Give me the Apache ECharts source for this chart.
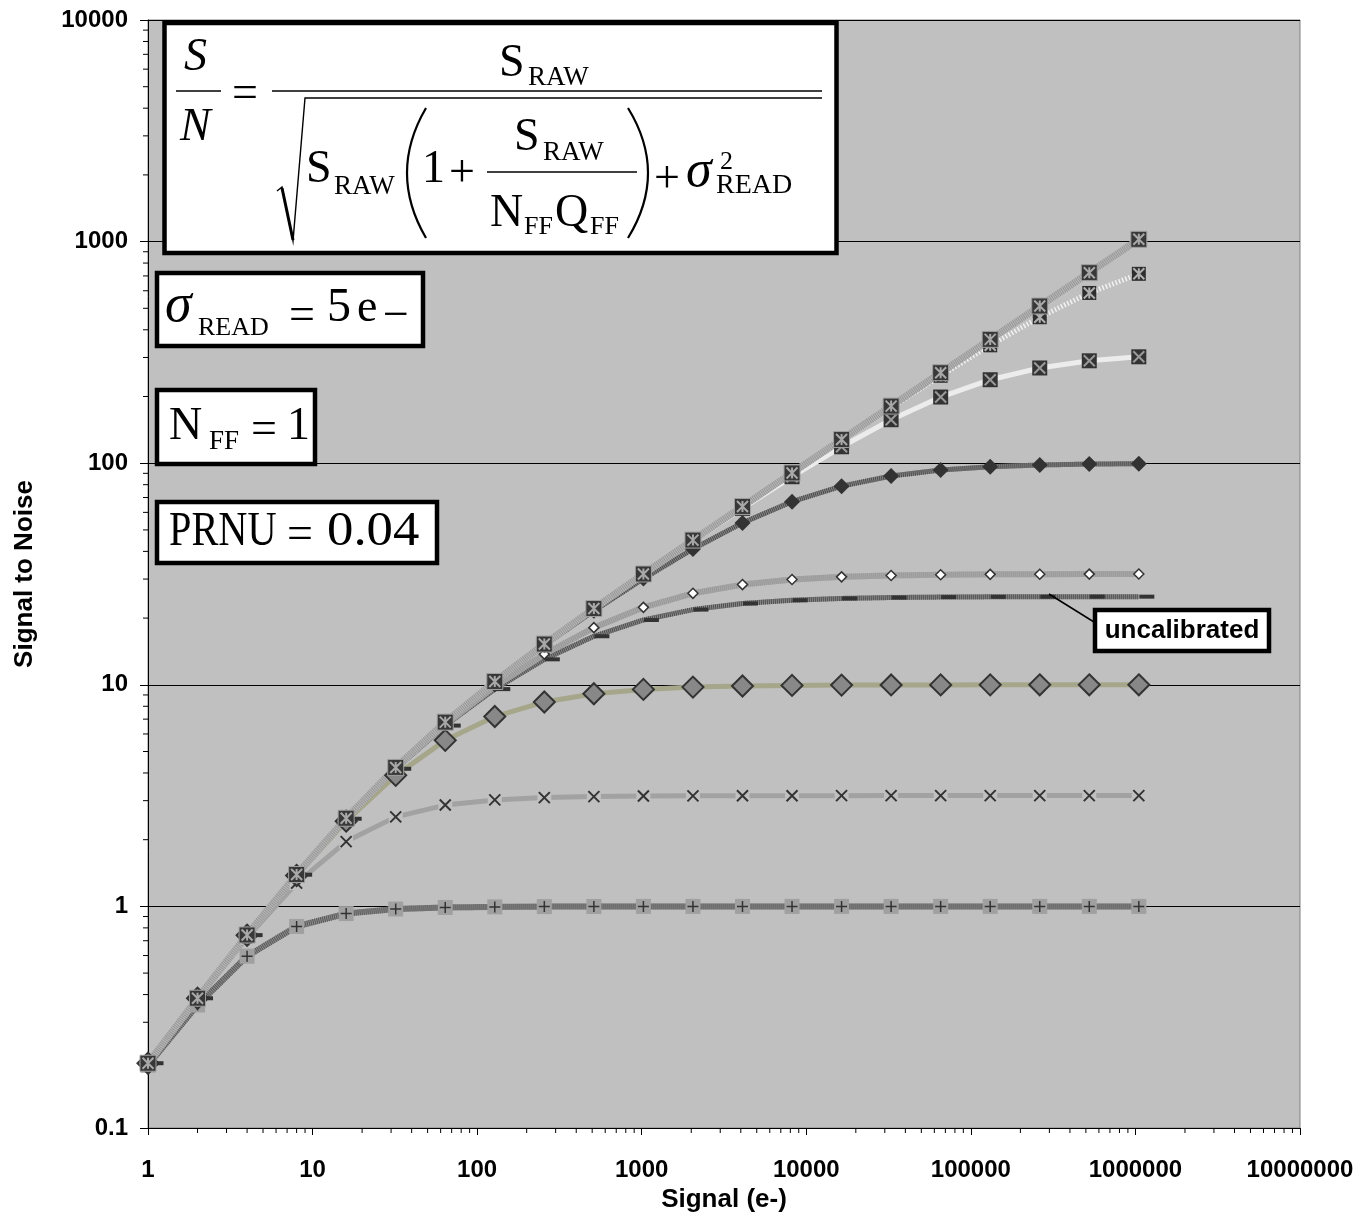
<!DOCTYPE html>
<html>
<head>
<meta charset="utf-8">
<script src="https://cdn.jsdelivr.net/npm/echarts@6/dist/echarts.min.js"></script>
<style>
  html, body { margin: 0; padding: 0; background: #ffffff; }
  #chart { width: 1362px; height: 1231px; }
</style>
</head>
<body>
<div id="chart"></div>
<script>
// ---------------- data ----------------
const signal = [1, 2, 4, 8, 16, 32, 64, 128, 256, 512, 1024, 2048, 4096, 8192, 16384, 32768, 65536, 131072, 262144, 524288, 1048576];

const snrNoFlatField = [0.196, 0.385, 0.743, 1.393, 2.499, 4.238, 6.784, 10.35, 15.27, 22.09, 31.62, 44.98, 63.80, 90.37, 127.9, 181.0, 256.0, 362.0, 512.0, 724.1, 1024];
const snrQ1e6 = [0.196, 0.385, 0.743, 1.393, 2.499, 4.238, 6.784, 10.35, 15.27, 22.09, 31.60, 44.93, 63.68, 90.00, 126.9, 178.1, 248.0, 340.4, 455.7, 586.5, 715.4];
const snrQ1e5 = [0.196, 0.385, 0.743, 1.393, 2.499, 4.238, 6.783, 10.35, 15.25, 22.04, 31.46, 44.53, 62.55, 86.89, 118.6, 157.1, 198.9, 238.1, 269.0, 289.8, 302.1];
const snrQ1e4 = [0.196, 0.385, 0.743, 1.393, 2.498, 4.235, 6.768, 10.29, 15.10, 21.57, 30.14, 41.02, 53.79, 67.05, 78.78, 87.52, 93.14, 96.39, 98.15, 99.06, 99.53];
const snrQ1e3 = [0.196, 0.385, 0.743, 1.391, 2.491, 4.201, 6.633, 9.835, 13.75, 18.11, 22.36, 25.87, 28.33, 29.85, 30.70, 31.15, 31.38, 31.50, 31.56, 31.59, 31.61];
const snrUncalibrated = [0.196, 0.385, 0.742, 1.390, 2.486, 4.179, 6.547, 9.562, 13.03, 16.56, 19.61, 21.85, 23.28, 24.09, 24.54, 24.76, 24.88, 24.94, 24.97, 24.99, 24.99];
const snrQ100 = [0.196, 0.385, 0.741, 1.379, 2.424, 3.902, 5.614, 7.191, 8.366, 9.110, 9.534, 9.762, 9.879, 9.939, 9.970, 9.985, 9.992, 9.996, 9.998, 9.999, 10.00];
const snrQ10 = [0.196, 0.382, 0.723, 1.274, 1.961, 2.535, 2.866, 3.024, 3.097, 3.130, 3.147, 3.154, 3.158, 3.160, 3.161, 3.162, 3.162, 3.162, 3.162, 3.162, 3.162];
const snrQ1 = [0.192, 0.359, 0.596, 0.812, 0.928, 0.973, 0.989, 0.995, 0.998, 0.999, 1.000, 1.000, 1.000, 1.000, 1.000, 1.000, 1.000, 1.000, 1.000, 1.000, 1.000];

const xTickLabels = ['1', '10', '100', '1000', '10000', '100000', '1000000', '10000000'];
const yTickLabels = ['0.1', '1', '10', '100', '1000', '10000'];
const xMinorTicks = [2,3,4,5,6,7,8,9, 20,30,40,50,60,70,80,90, 200,300,400,500,600,700,800,900,
  2000,3000,4000,5000,6000,7000,8000,9000, 20000,30000,40000,50000,60000,70000,80000,90000,
  200000,300000,400000,500000,600000,700000,800000,900000, 2000000,3000000,4000000,5000000,6000000,7000000,8000000,9000000];
const yMinorTicks = [0.2,0.3,0.4,0.5,0.6,0.7,0.8,0.9, 2,3,4,5,6,7,8,9, 20,30,40,50,60,70,80,90,
  200,300,400,500,600,700,800,900, 2000,3000,4000,5000,6000,7000,8000,9000];

// ---------------- helpers ----------------
const pairs = vals => signal.map((s, i) => [s, vals[i]]);
const P_X = 'path://M0,0L10,10M10,0L0,10';
const P_PLUS = 'path://M5,0L5,10M0,5L10,5';
const P_STAR = 'path://M0,0L10,10M10,0L0,10M5,0L5,10';
const common = { silent: true, animation: false, emphasis: { disabled: true } };

function lineOnly(name, vals, lineStyle) {
  return Object.assign({ name, type: 'line', data: pairs(vals), smooth: false, symbol: 'none', lineStyle }, common);
}
function marks(name, vals, symbol, size, itemStyle, extra) {
  return Object.assign({ name: name + ' markers', type: 'line', data: pairs(vals), lineStyle: { width: 0, opacity: 0 },
    symbol, symbolSize: size, showSymbol: true, itemStyle }, common, extra || {});
}
function strokeMarks(name, vals, path, size, color, width) {
  return marks(name, vals, path, size, { color: 'rgba(0,0,0,0)', borderColor: color, borderWidth: width });
}
function minorTickSeries(vals, isX) {
  return {
    type: 'custom', silent: true, animation: false, clip: false,
    data: vals.map(v => isX ? [v, 0.1] : [1, v]),
    renderItem: function (params, api) {
      const p = api.coord([api.value(0), api.value(1)]);
      const shape = isX ? { x1: p[0], y1: p[1], x2: p[0], y2: p[1] + 5 }
                        : { x1: p[0] - 5, y1: p[1], x2: p[0], y2: p[1] };
      return { type: 'line', shape, style: { stroke: '#000', lineWidth: 1 } };
    }
  };
}

const serif = '"Times New Roman","Liberation Serif",serif';
function tx(x, y, text, size, italic, sx) {
  return { type: 'text', x, y, z: 101, scaleX: sx || 1,
    style: { text, font: (italic ? 'italic ' : '') + size + 'px ' + serif, fill: '#000', align: 'left', verticalAlign: 'middle' } };
}
function box(x, y, w, h) {
  return { type: 'rect', z: 100, shape: { x, y, width: w, height: h }, style: { fill: '#fff', stroke: '#000', lineWidth: 4.5 } };
}
function ln(x1, y1, x2, y2, w) {
  return { type: 'line', z: 101, shape: { x1, y1, x2, y2 }, style: { stroke: '#000', lineWidth: w || 1.5 } };
}
function paren(xEnd, xMid, y1, y2) {
  return { type: 'bezierCurve', z: 101, shape: { x1: xEnd, y1, x2: xEnd, y2, cpx1: 2 * xMid - xEnd, cpy1: (y1 + y2) / 2 }, style: { stroke: '#000', lineWidth: 2.2, fill: null } };
}

const BIG = 46, SUB = 27;
const graphics = [
  box(164.5, 23, 672, 230),
  tx(184, 58, 'S', BIG, true),
  ln(176, 91, 221, 91),
  tx(180, 128, 'N', BIG, true),
  tx(232, 95, '=', BIG),
  ln(272, 91, 822, 91),
  tx(499, 64, 'S', BIG), tx(528, 78, 'RAW', SUB),
  { type: 'polyline', z: 101, shape: { points: [[277, 191], [282, 187], [293, 241], [305, 98], [822, 98]] }, style: { stroke: '#000', lineWidth: 1.4, fill: null } },
  ln(282, 188, 293, 240, 3),
  tx(306, 170, 'S', BIG), tx(334, 187, 'RAW', SUB),
  paren(426, 407, 108, 238),
  tx(422, 170, '1', BIG), tx(449, 174, '+', BIG),
  tx(514, 138, 'S', BIG), tx(543, 153, 'RAW', SUB),
  ln(487, 172, 637, 172),
  tx(490, 214, 'N', BIG), tx(524, 227, 'FF', 26), tx(555, 214, 'Q', BIG), tx(590, 227, 'FF', 26),
  paren(628, 648, 108, 238),
  tx(654, 180, '+', BIG),
  tx(686, 172, 'σ', 52, true), tx(720, 162, '2', 26), tx(716, 186, 'READ', 28),

  box(157, 273, 266, 73),
  tx(165, 307, 'σ', 54, true), tx(198, 328, 'READ', 26), tx(289, 317, '=', BIG),
  tx(327, 308, '5', 48), tx(357, 309, 'e', BIG), tx(383, 317, '−', BIG),

  box(157, 390, 158, 74),
  tx(169, 427, 'N', BIG), tx(209, 442, 'FF', 27), tx(251, 431, '=', BIG), tx(287, 427, '1', BIG),

  box(157, 502, 280, 61),
  tx(169, 532, 'PRNU', 48, false, 0.84), tx(287, 536, '=', BIG), tx(327, 532, '0.04', 48, false, 1.1),

  ln(1049, 594, 1094, 622, 1.5),
  box(1095, 610, 174, 41),
  { type: 'text', z: 101, x: 1182, y: 631, style: { text: 'uncalibrated', font: 'bold 26px Arial, "Liberation Sans", sans-serif', fill: '#000', align: 'center', verticalAlign: 'middle' } }
];

const font = 'Arial, "Liberation Sans", sans-serif';
const tickFont = { fontFamily: font, fontWeight: 'bold', fontSize: 24, color: '#000' };
const titleFont = { fontFamily: font, fontWeight: 'bold', fontSize: 26, color: '#000' };
const HATCH = [1, 1];

const option = {
  animation: false,
  backgroundColor: '#ffffff',
  grid: { left: 148, right: 62, top: 20, bottom: 103, show: true, backgroundColor: '#c0c0c0', borderColor: '#808080', borderWidth: 1 },
  xAxis: {
    type: 'log', logBase: 10, min: 1, max: 10000000, splitNumber: 7,
    name: 'Signal (e-)', nameLocation: 'middle', nameGap: 56,
    nameTextStyle: titleFont,
    axisLine: { show: true, lineStyle: { color: '#000', width: 1 } },
    axisTick: { show: true, length: 7, lineStyle: { color: '#000' } },
    axisLabel: Object.assign({ margin: 30, formatter: v => xTickLabels[Math.round(Math.log10(v))] }, tickFont),
    splitLine: { show: false }
  },
  yAxis: {
    type: 'log', logBase: 10, min: 0.1, max: 10000, splitNumber: 5,
    name: 'Signal to Noise', nameLocation: 'middle', nameGap: 110, nameRotate: 90,
    nameTextStyle: titleFont,
    axisLine: { show: true, lineStyle: { color: '#000', width: 1 } },
    axisTick: { show: true, length: 8, lineStyle: { color: '#000' } },
    axisLabel: Object.assign({ margin: 20, formatter: v => yTickLabels[Math.round(Math.log10(v)) + 1] }, tickFont),
    splitLine: { show: true, lineStyle: { color: '#000', width: 1 } }
  },
  graphic: graphics,
  series: [
    minorTickSeries(xMinorTicks, true),
    minorTickSeries(yMinorTicks, false),
    lineOnly('Q_FF = 1', snrQ1, { color: '#8e8e8e', width: 6 }),
    lineOnly('Q_FF = 1 hatch', snrQ1, { color: '#575757', width: 6, type: HATCH }),
    marks('Q_FF = 1', snrQ1, 'rect', 15, { color: '#a0a0a0', borderWidth: 0 }),
    strokeMarks('Q_FF = 1 plus', snrQ1, P_PLUS, 11, '#333', 1.5),
    lineOnly('Q_FF = 10', snrQ10, { color: '#a2a2a2', width: 5 }),
    marks('Q_FF = 10', snrQ10, 'rect', 14, { color: '#c0c0c0', borderWidth: 0 }),
    strokeMarks('Q_FF = 10 x', snrQ10, P_X, 11, '#333', 2),
    lineOnly('Q_FF = 100', snrQ100, { color: '#a6a68a', width: 5 }),
    marks('Q_FF = 100', snrQ100, 'diamond', 21, { color: '#888888', borderColor: '#333', borderWidth: 2 }),
    lineOnly('uncalibrated', snrUncalibrated, { color: '#8a8a8a', width: 5 }),
    lineOnly('uncalibrated hatch', snrUncalibrated, { color: '#4e4e4e', width: 5, type: HATCH }),
    marks('uncalibrated', snrUncalibrated, 'rect', [15, 4], { color: '#333', borderWidth: 0 }, { symbolOffset: [8, 0] }),
    lineOnly('Q_FF = 1000', snrQ1e3, { color: '#ababab', width: 6 }),
    lineOnly('Q_FF = 1000 hatch', snrQ1e3, { color: '#969696', width: 6, type: HATCH }),
    marks('Q_FF = 1000', snrQ1e3, 'diamond', 10, { color: '#ffffff', borderColor: '#333', borderWidth: 1.5 }),
    lineOnly('Q_FF = 10^4', snrQ1e4, { color: '#888888', width: 5 }),
    lineOnly('Q_FF = 10^4 hatch', snrQ1e4, { color: '#4a4a4a', width: 5, type: HATCH }),
    marks('Q_FF = 10^4', snrQ1e4, 'diamond', 16, { color: '#333', borderWidth: 0 }),
    lineOnly('Q_FF = 10^5', snrQ1e5, { color: '#ececec', width: 5 }),
    marks('Q_FF = 10^5', snrQ1e5, 'rect', 15, { color: '#333', borderWidth: 0 }),
    strokeMarks('Q_FF = 10^5 x', snrQ1e5, P_X, 11, '#9a9a9a', 2),
    lineOnly('Q_FF = 10^6', snrQ1e6, { color: '#f2f2f2', width: 5, type: [1.5, 2] }),
    marks('Q_FF = 10^6', snrQ1e6, 'rect', 14, { color: '#2e2e2e', borderWidth: 0 }),
    strokeMarks('Q_FF = 10^6 star', snrQ1e6, P_STAR, 11, '#b0b0b0', 2),
    lineOnly('no flat-field error', snrNoFlatField, { color: '#b8b8b8', width: 7 }),
    lineOnly('no flat-field error hatch', snrNoFlatField, { color: '#969696', width: 7, type: HATCH }),
    marks('no flat-field error', snrNoFlatField, 'rect', 16, { color: '#383838', borderColor: '#a0a0a0', borderWidth: 1 }),
    strokeMarks('no flat-field error star', snrNoFlatField, P_STAR, 11, '#a8a8a8', 2)
  ]
};

const chart = echarts.init(document.getElementById('chart'), null, { renderer: 'canvas' });
chart.setOption(option);
</script>
</body>
</html>
